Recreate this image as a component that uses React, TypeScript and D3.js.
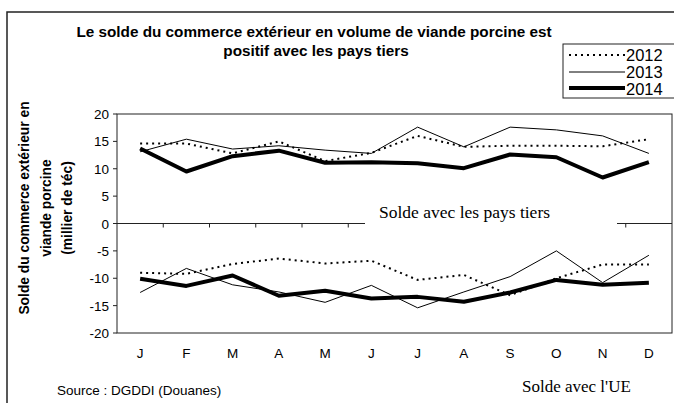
import * as d3 from "d3";

const months = ["J", "F", "M", "A", "M", "J", "J", "A", "S", "O", "N", "D"];
const yTicks = [20, 15, 10, 5, 0, -5, -10, -15, -20];
const years = ["2012", "2013", "2014"];

// solde avec les pays tiers (milliers de téc)
const tiers2012 = [14.6, 14.6, 12.8, 15.0, 11.4, 12.9, 16.0, 14.0, 14.2, 14.2, 14.1, 15.4];
const tiers2013 = [13.1, 15.4, 13.6, 14.2, 13.4, 12.8, 17.6, 14.0, 17.6, 17.1, 16.0, 12.8];
const tiers2014 = [13.7, 9.5, 12.3, 13.3, 11.1, 11.2, 11.0, 10.1, 12.6, 12.1, 8.4, 11.2];

// solde avec l'UE
const ue2012 = [-9.0, -9.2, -7.4, -6.4, -7.3, -6.8, -10.3, -9.4, -13.1, -10.0, -7.5, -7.5];
const ue2013 = [-12.6, -8.2, -11.2, -12.5, -14.4, -11.3, -15.4, -12.5, -9.7, -5.0, -10.8, -5.8];
const ue2014 = [-10.1, -11.4, -9.5, -13.2, -12.3, -13.7, -13.4, -14.3, -12.6, -10.3, -11.2, -10.8];

const styles = [
  { width: 2, dash: "2 4" },
  { width: 1, dash: null },
  { width: 4, dash: null },
];

const SANS = "'Liberation Sans', Arial, sans-serif";
const SERIF = "'Liberation Serif', 'Times New Roman', serif";

export default function App() {
  const W = 674, H = 403;
  const M = { l: 117, r: 672, t: 114, b: 333 };
  const x = d3.scaleBand<number>().domain(d3.range(12)).range([M.l, M.r]);
  const y = d3.scaleLinear().domain([-20, 20]).range([M.b, M.t]);
  const cx = (i: number) => (x(i) as number) + x.bandwidth() / 2;
  const line = d3.line<number>().x((_, i) => cx(i)).y(v => y(v));
  const series = [
    [tiers2012, ue2012],
    [tiers2013, ue2013],
    [tiers2014, ue2014],
  ];
  const y0 = y(0);
  return (
    <svg width={W} height={H} style={{ position: "absolute", left: 0, top: 0, background: "#fff" }}>
      <defs>
        <clipPath id="legclip"><rect x={563} y={44} width={120} height={54} /></clipPath>
      </defs>
      {/* outer frame */}
      <path d={`M7,${H} L7,12 L${W},12`} fill="none" stroke="#222" strokeWidth="1.5" />

      {/* title */}
      <text x={314} y={37} textAnchor="middle" fontFamily={SANS} fontWeight="bold" fontSize="15.3" fill="#000">Le solde du commerce extérieur en volume de viande porcine est</text>
      <text x={316} y={56} textAnchor="middle" fontFamily={SANS} fontWeight="bold" fontSize="15.3" fill="#000">positif avec les pays tiers</text>

      {/* plot frame */}
      <rect x={M.l} y={M.t} width={M.r - M.l} height={M.b - M.t} fill="none" stroke="#222" strokeWidth="1" />
      {/* zero line with ticks */}
      <line x1={M.l} x2={M.r} y1={y0} y2={y0} stroke="#222" strokeWidth="1" />
      {d3.range(1, 12).map(i => (
        <line key={i} x1={x(i)} x2={x(i)} y1={y0} y2={y0 + 4} stroke="#222" />
      ))}
      {/* y ticks */}
      {yTicks.map(t => (
        <g key={t}>
          <line x1={M.l - 4} x2={M.l} y1={y(t)} y2={y(t)} stroke="#222" />
          <text x={M.l - 8} y={y(t) + 5} textAnchor="end" fontFamily={SANS} fontSize="13.5" fill="#000">{t}</text>
        </g>
      ))}
      {/* month labels */}
      {months.map((m, i) => (
        <text key={i} x={cx(i)} y={358} textAnchor="middle" fontFamily={SANS} fontSize="13.5" fill="#000">{m}</text>
      ))}

      {/* white box for label */}
      <rect x={365} y={202} width={252} height={26} fill="#fff" />
      <text x={464.5} y={218} textAnchor="middle" fontFamily={SERIF} fontSize="17.5" fill="#000">Solde avec les pays tiers</text>

      {/* lines */}
      {series.map((pair, k) => pair.map((vals, j) => (
        <path key={`${k}-${j}`} d={line(vals) as string} fill="none" stroke="#000"
          strokeWidth={styles[k].width} strokeDasharray={styles[k].dash ?? undefined} strokeLinejoin="round" />
      )))}

      {/* y-axis title */}
      <g transform="translate(0 208)">
        {["Solde du commerce extérieur en", "viande porcine", "(millier de téc)"].map((s, i) => (
          <text key={i} transform={`translate(${[29, 51, 72][i]} 0) rotate(-90)`} textAnchor="middle" fontFamily={SANS} fontWeight="bold" fontSize="13.8" fill="#000">{s}</text>
        ))}
      </g>

      {/* legend */}
      <rect x={563} y={44} width={120} height={54} fill="#fff" stroke="#222" strokeWidth="1" />
      <g clipPath="url(#legclip)">
        {years.map((yr, k) => (
          <g key={yr}>
            <line x1={569} x2={625} y1={[55, 72, 88][k]} y2={[55, 72, 88][k]} stroke="#000" strokeWidth={styles[k].width} strokeDasharray={styles[k].dash ?? undefined} />
            <text x={626} y={[61, 78, 95][k]} fontFamily={SANS} fontSize="16.5" fill="#000">{yr}</text>
          </g>
        ))}
        <text x={626} y={110} fontFamily={SANS} fontSize="16.5" fill="#000">Solde</text>
      </g>

      {/* source and UE label */}
      <text x={57} y={395} fontFamily={SANS} fontSize="13.5" fill="#000">Source : DGDDI (Douanes)</text>
      <text x={522} y={392} fontFamily={SERIF} fontSize="17" fill="#000">Solde avec l'UE</text>
    </svg>
  );
}
